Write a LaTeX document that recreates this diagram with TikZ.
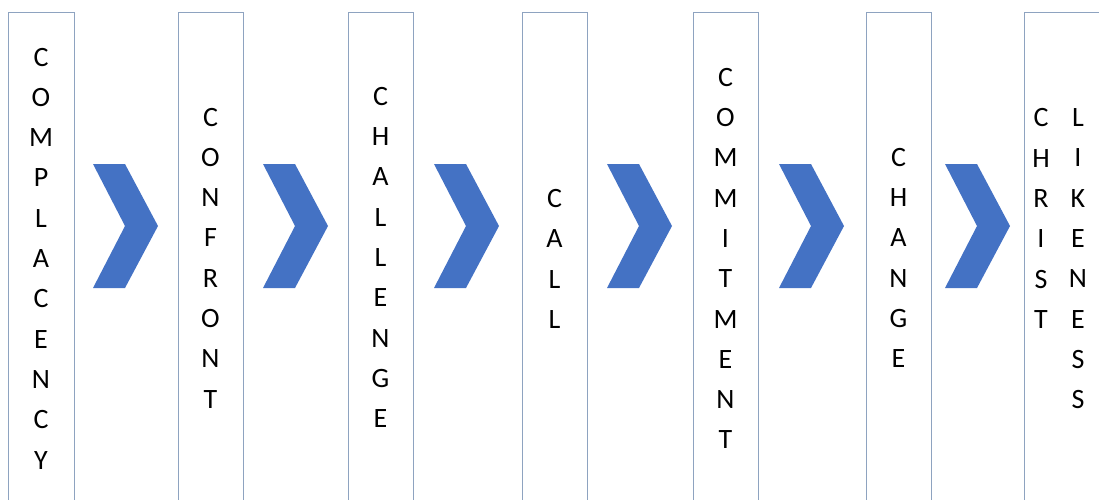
\documentclass[tikz,border=0pt]{standalone}
\usepackage{fontspec}
\setmainfont{Carlito}
\definecolor{boxline}{HTML}{8EA3C0}
\definecolor{chev}{HTML}{4472C4}
\tikzset{
  stage/.style={draw=boxline, line width=1pt, fill=white},
  word/.style={align=center, inner sep=0pt, font=\fontsize{28}{40.3}\selectfont},
  chevron/.style={fill=chev, draw=none},
}
\begin{document}
\begin{tikzpicture}[x=1pt, y=-1pt]
\useasboundingbox (0,0) rectangle (1099,499);
\clip (0,0) rectangle (1099,499);
% stage columns
\foreach \l/\r [count=\i] in {8/74, 178/243, 348/413, 522/587, 693/758, 866/931, 1024/1120}
  \draw[stage] (\l,508) -- (\l,12) -- (\r,12) -- (\r,508);
% words
\node[word] (w1) at (41,258.5) {C\\O\\M\\P\\L\\A\\C\\E\\N\\C\\Y};
\node[word] (w2) at (210.5,258) {C\\O\\N\\F\\R\\O\\N\\T};
\node[word] (w3) at (380.5,257.5) {C\\H\\A\\L\\L\\E\\N\\G\\E};
\node[word] (w4) at (554.5,259) {C\\A\\L\\L};
\node[word] (w5) at (725.5,258.5) {C\\O\\M\\M\\I\\T\\M\\E\\N\\T};
\node[word] (w6) at (898.5,258) {C\\H\\A\\N\\G\\E};
\node[word, anchor=north] (w7a) at (1041,108.5) {C\\H\\R\\I\\S\\T};
\node[word, anchor=north] (w7b) at (1078,108.5) {L\\I\\K\\E\\N\\E\\S\\S};
% chevrons between stages
\foreach \x in {93, 263, 434, 607, 779, 945}
  \fill[chevron] (\x,164) -- (\x+32,164) -- (\x+65,226) -- (\x+32,288) -- (\x,288) -- (\x+32,226) -- cycle;
\end{tikzpicture}
\end{document}
